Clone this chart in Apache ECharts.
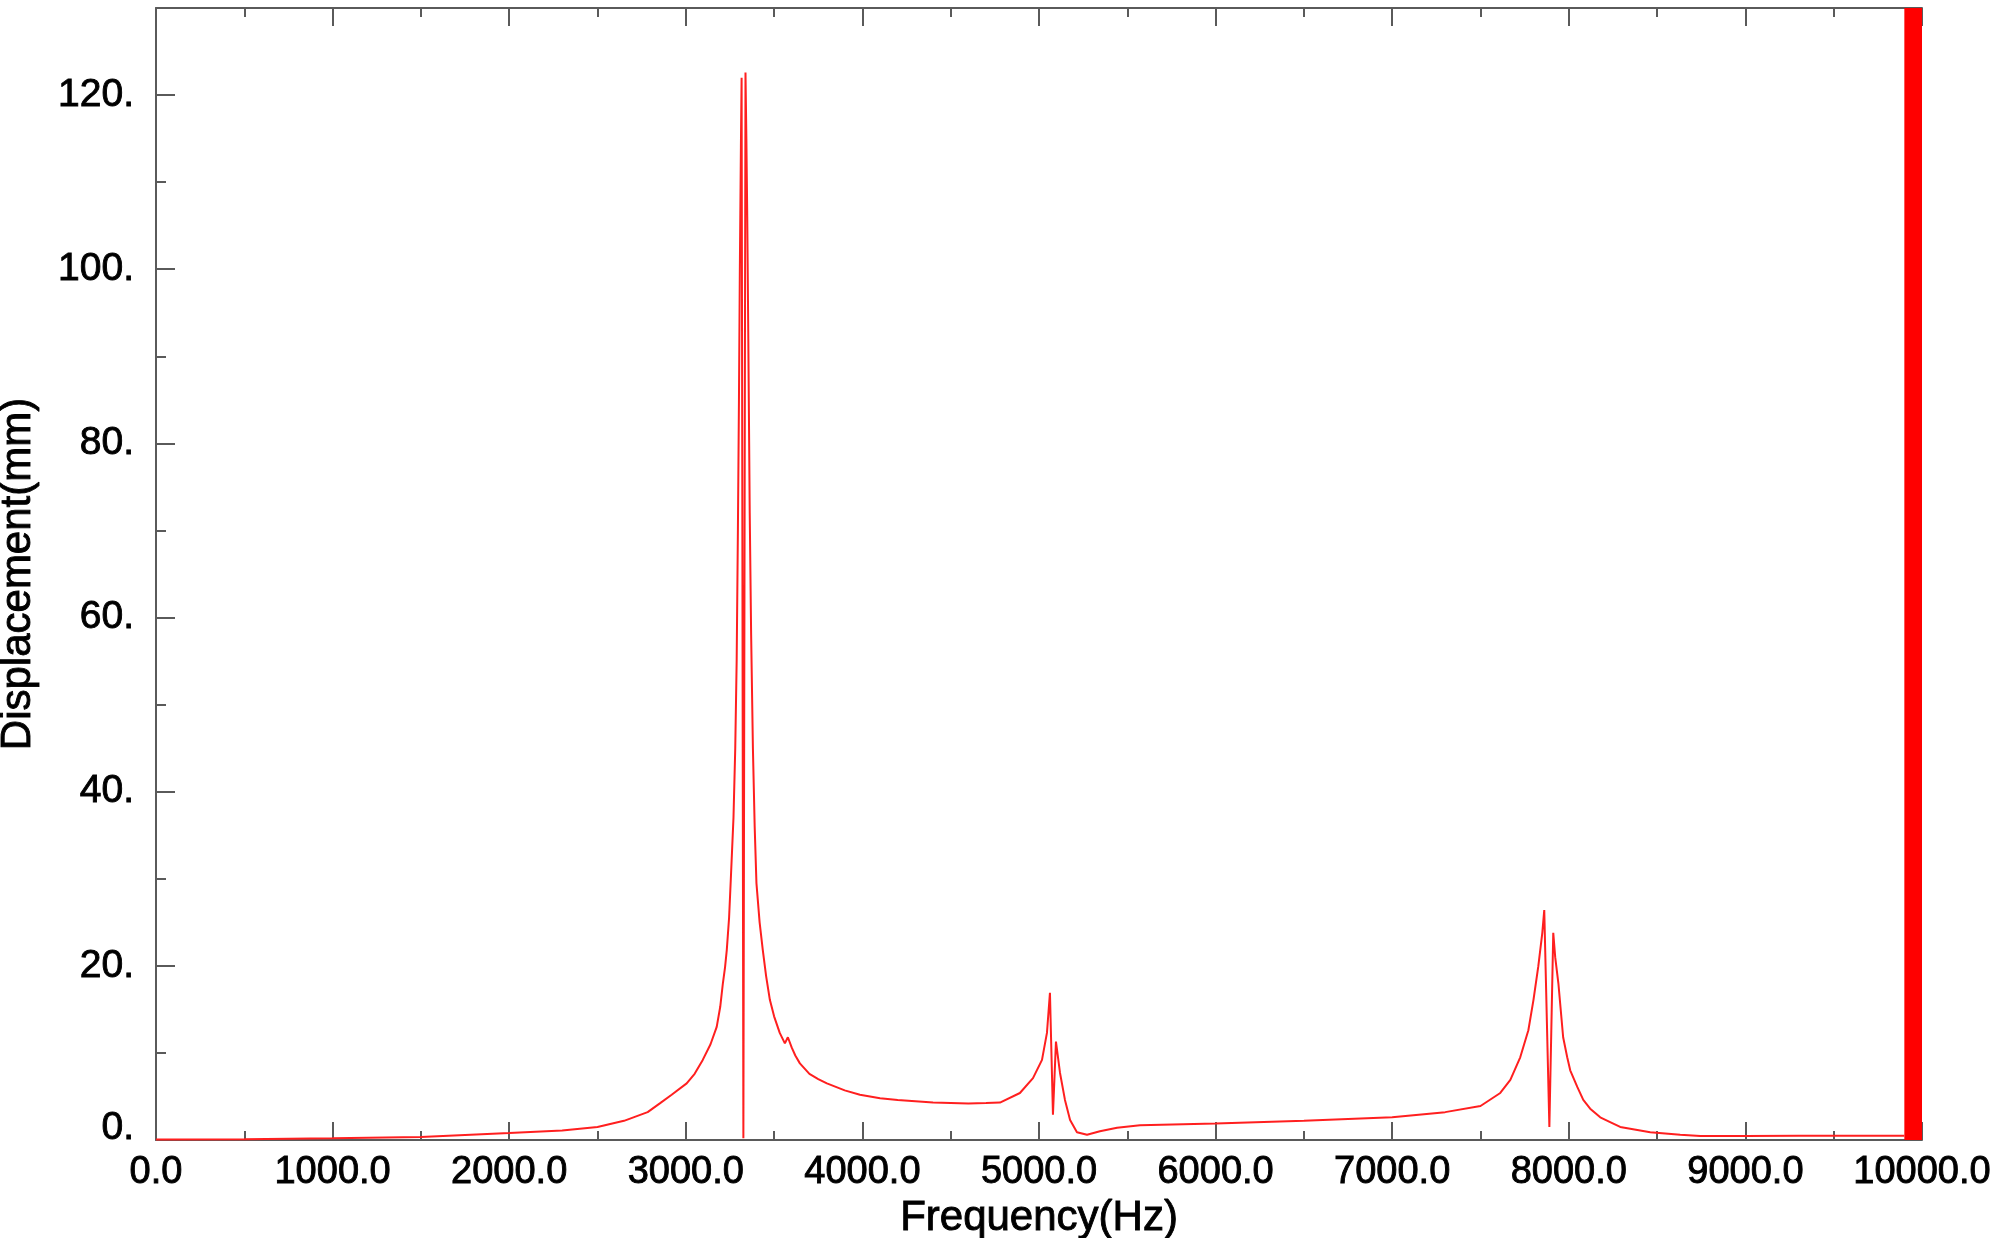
<!DOCTYPE html>
<html>
<head>
<meta charset="utf-8">
<script src="https://cdn.jsdelivr.net/npm/echarts@6/dist/echarts.min.js"></script>
<style>
html,body{margin:0;padding:0;background:#fff;}
#chart{width:2000px;height:1238px;}
</style>
</head>
<body>
<div id="chart"></div>
<script>
// Frequency (Hz) and displacement (mm)
var freqHz = [0, 500, 1000, 1500, 2000, 2300, 2500, 2650, 2784, 2853, 2920, 3005, 3050, 3096, 3140, 3175, 3195, 3210, 3222, 3232, 3245, 3255, 3270, 3280, 3288, 3295, 3301, 3306, 3312, 3316, 3326, 3338, 3343, 3348, 3354, 3362, 3370, 3380, 3390, 3400, 3418, 3436, 3455, 3476, 3500, 3532, 3561, 3578, 3600, 3620, 3646, 3700, 3750, 3799, 3900, 3986, 4100, 4200, 4400, 4600, 4700, 4779, 4892, 4966, 5017, 5045, 5062, 5079, 5096, 5119, 5147, 5176, 5215, 5272, 5345, 5442, 5572, 6000, 6500, 7000, 7300, 7500, 7612, 7669, 7725, 7771, 7800, 7827, 7850, 7861, 7890, 7912, 7923, 7941, 7968, 7991, 8008, 8048, 8082, 8121, 8178, 8240, 8291, 8461, 8631, 8745, 9000, 9300, 9600, 9900];
var dispMm = [0.05, 0.1, 0.2, 0.35, 0.8, 1.1, 1.5, 2.2, 3.2, 4.2, 5.2, 6.5, 7.6, 9.2, 11.0, 13.0, 15.3, 18.0, 19.8, 21.8, 25.5, 30, 37, 45, 55, 70, 85, 100, 114, 122.0, 0.2, 122.6, 115, 106, 92, 72, 58, 45, 36, 29.5, 25, 21.8, 18.8, 16.1, 14.2, 12.3, 11.1, 11.8, 10.6, 9.7, 8.8, 7.6, 7.0, 6.5, 5.7, 5.2, 4.8, 4.6, 4.3, 4.2, 4.25, 4.3, 5.4, 7.1, 9.2, 12.3, 16.9, 2.9, 11.3, 7.7, 4.6, 2.3, 0.9, 0.6, 1.0, 1.4, 1.7, 1.9, 2.2, 2.6, 3.2, 3.9, 5.4, 6.9, 9.5, 12.6, 16.1, 19.9, 23.8, 26.4, 1.5, 23.8, 21.0, 18.0, 11.8, 9.5, 8.0, 6.1, 4.6, 3.6, 2.6, 2.0, 1.5, 0.9, 0.6, 0.45, 0.45, 0.5, 0.5, 0.5];
// Dense red band at the right end of the spectrum (Hz range)
var bandHz = [9900, 10000];
// Axis ticks
var yMajorTicks = [0, 20, 40, 60, 80, 100, 120];
var yMinorTicks = [10, 30, 50, 70, 90, 110];
var xRange = [0, 10000];
var yRange = [0, 130];

var seriesData = freqHz.map(function (f, i) { return [f, dispMm[i]]; });

var FONT = '"Liberation Sans", Arial, sans-serif';
var AXIS_COLOR = '#5a5a5a';
var txt = {fontFamily: FONT, color: '#000', textBorderColor: '#000', textBorderWidth: 0.9};

var chart = echarts.init(document.getElementById('chart'), null, {renderer: 'canvas'});
chart.setOption({
  animation: false,
  backgroundColor: '#ffffff',
  grid: {left: 156, right: 78, top: 8, bottom: 98, outerBoundsMode: 'none', containLabel: false},
  xAxis: [{
    type: 'value', position: 'bottom',
    min: xRange[0], max: xRange[1], interval: 1000,
    name: 'Frequency(Hz)', nameLocation: 'middle', nameGap: 49,
    nameTextStyle: Object.assign({fontSize: 42}, txt),
    axisLine: {show: true, onZero: false, lineStyle: {color: AXIS_COLOR, width: 2}},
    axisTick: {show: true, inside: true, length: 18, lineStyle: {color: AXIS_COLOR, width: 2}},
    minorTick: {show: true, splitNumber: 2, length: 9, lineStyle: {color: AXIS_COLOR, width: 2}},
    axisLabel: Object.assign({fontSize: 38, margin: 14, hideOverlap: false,
      formatter: function (v) { return v.toFixed(1); }}, txt),
    splitLine: {show: false}
  }, {
    type: 'value', position: 'top',
    min: xRange[0], max: xRange[1], interval: 1000,
    axisLine: {show: true, onZero: false, lineStyle: {color: AXIS_COLOR, width: 2}},
    axisTick: {show: true, inside: true, length: 18, lineStyle: {color: AXIS_COLOR, width: 2}},
    minorTick: {show: true, splitNumber: 2, length: 9, lineStyle: {color: AXIS_COLOR, width: 2}},
    axisLabel: {show: false},
    splitLine: {show: false}
  }],
  yAxis: [{
    type: 'value', position: 'left',
    min: yRange[0], max: yRange[1],
    name: 'Displacement(mm)', nameLocation: 'middle', nameGap: 117,
    nameTextStyle: Object.assign({fontSize: 42}, txt),
    axisLine: {show: true, onZero: false, lineStyle: {color: AXIS_COLOR, width: 2}},
    axisTick: {show: true, inside: true, length: 19, customValues: yMajorTicks,
      lineStyle: {color: AXIS_COLOR, width: 2}},
    axisLabel: Object.assign({fontSize: 39, margin: 22,
      customValues: yMajorTicks,
      formatter: function (v) { return v === 0 ? '{z|0.}' : v + '.'; },
      rich: {z: Object.assign({fontSize: 39, padding: [0, 0, 24, 0]}, txt)}}, txt),
    splitLine: {show: false}
  }, {
    type: 'value', position: 'left',
    min: yRange[0], max: yRange[1],
    axisLine: {show: false},
    axisTick: {show: true, inside: true, length: 10, customValues: yMinorTicks,
      lineStyle: {color: AXIS_COLOR, width: 2}},
    axisLabel: {show: false},
    splitLine: {show: false}
  }],
  series: [{
    type: 'line',
    xAxisIndex: 0, yAxisIndex: 0,
    data: seriesData,
    showSymbol: false,
    symbol: 'none',
    lineStyle: {color: '#ff1f1f', width: 2},
    z: 3,
    markArea: {
      silent: true,
      itemStyle: {color: '#ff0000', opacity: 1},
      data: [[{xAxis: bandHz[0]}, {xAxis: bandHz[1]}]]
    }
  }]
});
</script>
</body>
</html>
